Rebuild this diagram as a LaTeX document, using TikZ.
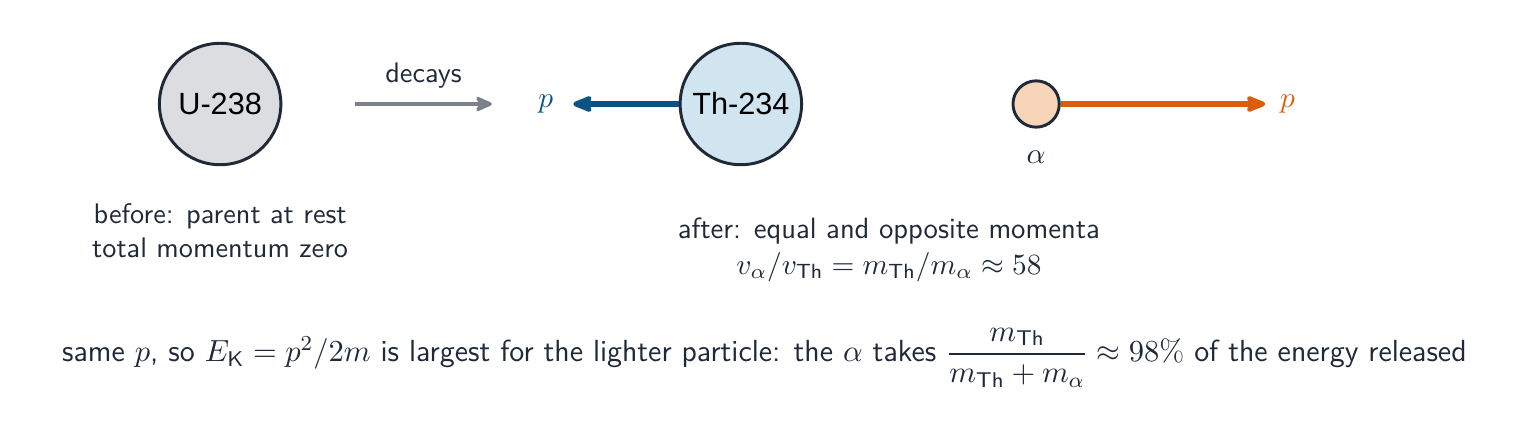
\RequirePackage{fix-cm}
\documentclass[tikz,border=0pt]{standalone}
\usepackage{fontspec}
\usepackage{amsmath}
\newfontfamily\nucfont{Liberation Sans}
\usetikzlibrary{arrows.meta}

\definecolor{ink}{HTML}{1F2937}
\definecolor{parentgray}{HTML}{DCDDE0}
\definecolor{daughterblue}{HTML}{D1E5F0}
\definecolor{alphafill}{HTML}{F6D5B9}
\definecolor{recoilblue}{HTML}{0B5384}
\definecolor{alphaorange}{HTML}{D95F0E}
\definecolor{arrowgray}{HTML}{7B8089}

\begin{document}
\begin{tikzpicture}[nucleus/.style = {circle, draw=ink, line width=1.1pt, minimum size=1.6cm, inner sep=0pt, text=black, font=\nucfont\fontsize{11.5}{13}\selectfont}, caption/.style = {align=center, text=ink, font=\sffamily\fontsize{10.6}{12.6}\selectfont}, mlabel/.style = {font=\fontsize{11}{13}\selectfont}, momentum/.style = {line width=2.2pt, shorten >=2pt, -{Stealth[round, length=10pt, width=8pt, inset=3pt]}}]

    \useasboundingbox (0, 0) rectangle (20.13, -5.8);

    % before
    \node at (2.90, -1.37) [nucleus, fill=parentgray] (u238) {U-238};
    \node at (2.90, -3.04) [caption] (before) {before: parent at rest\\total momentum zero};

    \coordinate (d_start) at (4.68, -1.37);
    \coordinate (d_end) at (6.48, -1.37);
    \draw[arrowgray, line width=1.3pt, -{Stealth[round, length=8pt, width=7pt, inset=2.5pt]}] (d_start) -- node[above, caption, yshift=2pt] {decays} (d_end);

    % after
    \node at (9.76, -1.37) [nucleus, fill=daughterblue] (th234) {Th-234};
    \node at (7.19, -1.37) [mlabel, text=recoilblue] (p_th) {$p$};
    \draw[momentum, recoilblue, shorten >=4pt] (th234.west) -- (p_th.east);

    \node at (13.65, -1.37) [circle, draw=ink, line width=1.1pt, fill=alphafill, minimum size=0.61cm, inner sep=0pt] (alpha) {};
    \node at (13.65, -2.07) [mlabel, text=ink] (alpha_lbl) {$\alpha$};
    \node at (16.96, -1.37) [mlabel, text=alphaorange] (p_al) {$p$};
    \draw[momentum, alphaorange] (alpha.east) -- (p_al.west);

    \node at (11.71, -3.29) [caption, font=\sffamily\fontsize{11}{13.2}\selectfont] (after) {after: equal and opposite momenta\\$v_\alpha/v_{\textsf{Th}} = m_{\textsf{Th}}/m_\alpha \approx 58$};

    % energy share
    \node at (10.07, -4.71) [caption, font=\sffamily\fontsize{11.45}{13.8}\selectfont] (share) {same $p$, so $E_{\textsf{K}} = p^2/2m$ is largest for the lighter particle: the $\alpha$ takes $\dfrac{m_{\textsf{Th}}}{m_{\textsf{Th}} + m_\alpha} \approx 98\%$ of the energy released};
\end{tikzpicture}
\end{document}
